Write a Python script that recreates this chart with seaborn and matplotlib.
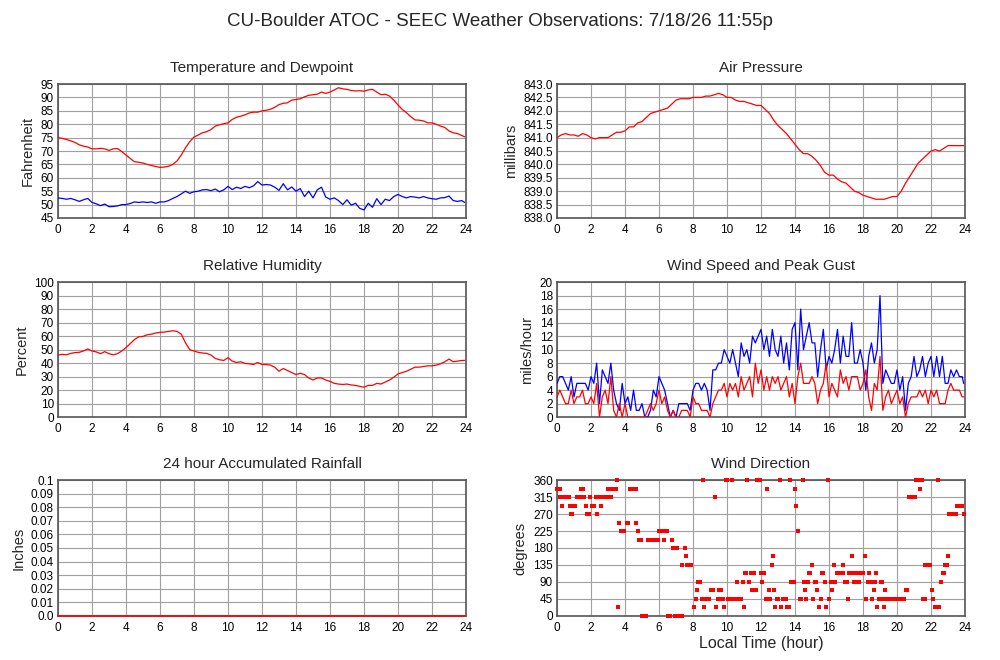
import numpy as np
import matplotlib
matplotlib.use("Agg")
import matplotlib.pyplot as plt
import seaborn as sns

# time axes (hours): 15-min series end at 11:55p, 10-min wind series likewise
t15 = np.append(np.arange(96) * 0.25, 23.92)
t10 = np.append(np.arange(144) / 6.0, 23.92)

temperature = [
    75.0, 74.7, 74.3, 73.8, 73.2, 72.3, 71.8, 71.5, 70.8, 70.8, 71.0, 70.8,
    70.2, 70.8, 70.9, 69.8, 68.5, 67.2, 66.0, 65.8, 65.5, 65.0, 64.6, 64.2,
    63.9, 64.0, 64.3, 65.0, 66.3, 68.5, 71.2, 73.5, 75.2, 76.0, 76.8, 77.2,
    78.0, 79.3, 79.8, 80.2, 80.5, 81.8, 82.6, 83.0, 83.5, 84.2, 84.5, 84.5,
    85.0, 85.2, 85.6, 86.3, 87.3, 87.8, 88.0, 89.0, 89.2, 89.5, 90.2, 90.8,
    91.0, 91.2, 92.0, 91.5, 92.0, 92.8, 93.6, 93.2, 93.0, 92.6, 92.4, 92.5,
    92.3, 92.8, 93.0, 92.0, 91.0, 91.2, 90.5, 89.0, 87.2, 85.5, 84.3, 82.8,
    81.6, 81.5, 81.2, 80.5, 80.5, 80.0, 79.3, 78.8, 77.5, 76.8, 76.5, 75.8,
    75.3]

dewpoint = [
    52.5, 52.3, 52.0, 52.3, 51.8, 51.2, 51.8, 52.3, 50.8, 50.3, 49.6, 50.2,
    49.2, 49.3, 49.5, 50.0, 50.0, 50.4, 51.0, 50.8, 51.0, 50.8, 51.0, 50.5,
    51.0, 51.0, 51.5, 52.3, 53.0, 54.0, 55.0, 54.2, 54.8, 55.0, 55.5, 55.6,
    55.2, 55.8, 54.8, 55.5, 56.8, 55.6, 56.5, 56.0, 56.8, 56.3, 57.0, 58.6,
    57.3, 57.5, 57.3, 56.5, 55.3, 57.8, 55.5, 56.6, 55.0, 56.0, 53.0, 55.0,
    52.5, 55.5, 56.5, 52.8, 52.0, 52.5, 51.5, 50.0, 51.8, 49.8, 50.5, 48.6,
    48.0, 50.5, 49.0, 52.2, 50.0, 52.0, 51.5, 53.0, 53.8, 53.0, 52.5, 53.0,
    52.8, 52.5, 53.0, 52.5, 52.2, 52.0, 52.5, 52.6, 53.2, 51.5, 51.2, 51.5,
    50.8]

pressure = [
    841.0, 841.1, 841.15, 841.1, 841.1, 841.05, 841.15, 841.1, 841.0, 840.95, 841.0, 841.0,
    841.0, 841.1, 841.2, 841.2, 841.25, 841.4, 841.4, 841.55, 841.6, 841.75, 841.9, 841.95,
    842.0, 842.05, 842.1, 842.25, 842.4, 842.45, 842.45, 842.45, 842.5, 842.5, 842.5, 842.55,
    842.55, 842.6, 842.65, 842.6, 842.5, 842.5, 842.4, 842.35, 842.35, 842.3, 842.25, 842.2,
    842.2, 842.05, 841.9, 841.65, 841.45, 841.3, 841.15, 840.95, 840.75, 840.55, 840.4, 840.4,
    840.3, 840.15, 839.95, 839.7, 839.6, 839.6, 839.45, 839.35, 839.3, 839.15, 839.0, 838.95,
    838.85, 838.8, 838.75, 838.7, 838.7, 838.7, 838.75, 838.8, 838.8, 839.0, 839.3, 839.55,
    839.8, 840.05, 840.2, 840.35, 840.5, 840.55, 840.5, 840.6, 840.7, 840.7, 840.7, 840.7,
    840.7]

humidity = [
    46.0, 46.5, 46.2, 47.2, 47.8, 48.0, 49.0, 50.5, 49.0, 48.3, 47.0, 48.5,
    47.0, 46.2, 47.0, 49.0, 51.5, 54.5, 57.5, 59.5, 59.8, 61.0, 61.5, 62.3,
    62.8, 63.0, 63.5, 64.0, 63.5, 61.5, 55.0, 50.0, 49.0, 48.0, 47.5, 47.2,
    46.0, 43.5, 42.5, 42.0, 44.0, 41.5, 40.5, 41.0, 39.8, 39.5, 39.0, 40.5,
    39.0, 39.0, 38.5, 37.0, 34.0, 36.0, 34.5, 33.0, 31.5, 32.5, 31.5, 29.0,
    27.5, 29.0, 29.0, 27.5, 26.5, 25.0, 24.5, 24.2, 24.5, 23.8, 23.5, 22.8,
    22.2, 23.5, 23.5, 25.0, 24.5, 26.0, 27.5, 29.5, 32.0, 33.0, 34.0, 35.5,
    37.0, 37.0, 37.5, 38.0, 38.0, 38.5, 39.5, 41.0, 43.0, 41.0, 41.5, 42.0,
    42.0]

gust = [
    5, 6, 6, 5, 4, 6,   3, 5, 5, 5, 5, 4,   6, 5, 8, 2, 7, 6,   5, 8, 4, 2, 1, 5,
    2, 3, 1, 4, 1, 1,   2, 0, 0, 1, 4, 3,   6, 5, 4, 2, 0, 1,   0, 2, 2, 2, 2, 1,
    4, 5, 5, 4, 5, 4,   1, 7, 7, 8, 8, 10,  9, 8, 10, 8, 6, 11, 9, 10, 8, 12, 11, 12,
    13, 10, 12, 9, 13, 10, 9, 12, 8, 11, 7, 13, 14, 7, 16, 10, 12, 14, 11, 11, 6, 10, 13, 7,
    9, 8, 10, 13, 8, 12, 9, 9, 14, 8, 8, 10, 8, 4, 9, 11, 8, 10, 18, 5, 7, 6, 5, 5,
    7, 4, 6, 1, 5, 6,   9, 6, 7, 9, 6, 8,   9, 6, 9, 6, 9, 5,   5, 7, 6, 7, 6, 6,
    5]

speed = [
    3, 4, 3, 2, 2, 4,   2, 3, 3, 4, 2, 2,   3, 2, 5, 0, 3, 4,   2, 6, 1, 0, 2, 0,
    2, 0, 0, 0, 0, 0,   0, 0, 1, 2, 1, 2,   4, 2, 3, 1, 0, 1,   0, 0, 1, 1, 1, 0,
    3, 2, 2, 1, 1, 1,   0, 2, 3, 4, 4, 5,   3, 5, 4, 5, 3, 6,   4, 5, 6, 3, 8, 5,
    7, 4, 6, 4, 6, 5,   6, 4, 5, 6, 3, 5,   2, 6, 8, 5, 5, 5,   6, 5, 2, 4, 5, 8,
    3, 5, 4, 3, 7, 5,   6, 4, 6, 6, 6, 4,   5, 7, 3, 1, 5, 4,   9, 1, 3, 4, 2, 3,
    4, 2, 3, 0, 2, 3,   3, 3, 4, 3, 4, 2,   4, 3, 4, 2, 2, 2,   4, 5, 4, 4, 4, 3,
    3]

rain_hour = [0.0, 23.92]
rain = [0.0, 0.0]

wd_hour = [
    0.0, 0.08, 0.15, 0.2, 0.3, 0.37, 0.45, 0.53, 0.6, 0.68,
    0.75, 0.8, 0.88, 1.0, 1.08, 1.2, 1.28, 1.37, 1.43, 1.5,
    1.57, 1.68, 1.75, 1.85, 1.9, 1.95, 2.05, 2.13, 2.2, 2.28,
    2.33, 2.42, 2.5, 2.58, 2.7, 2.78, 2.87, 2.95, 3.0, 3.08,
    3.2, 3.3, 3.38, 3.45, 3.5, 3.57, 3.65, 3.75, 3.83, 3.92,
    4.1, 4.18, 4.3, 4.38, 4.47, 4.55, 4.62, 4.67, 4.75, 4.85,
    4.93, 5.0, 5.08, 5.17, 5.25, 5.33, 5.42, 5.5, 5.58, 5.67,
    5.75, 5.83, 5.92, 6.0, 6.08, 6.17, 6.28, 6.37, 6.45, 6.55,
    6.63, 6.75, 6.85, 6.92, 6.97, 7.0, 7.05, 7.08, 7.17, 7.25,
    7.33, 7.38, 7.5, 7.57, 7.62, 7.7, 7.78, 7.87, 8.05, 8.15,
    8.25, 8.32, 8.4, 8.5, 8.58, 8.67, 8.72, 8.8, 8.88, 8.97,
    9.07, 9.17, 9.3, 9.38, 9.47, 9.55, 9.62, 9.7, 9.77, 9.85,
    9.92, 10.0, 10.05, 10.13, 10.2, 10.27, 10.33, 10.42, 10.5, 10.6,
    10.7, 10.78, 10.85, 10.92, 11.0, 11.07, 11.13, 11.2, 11.3, 11.42,
    11.47, 11.5, 11.58, 11.7, 11.78, 11.85, 11.92, 12.0, 12.08, 12.17,
    12.28, 12.35, 12.45, 12.55, 12.62, 12.7, 12.77, 12.85, 12.92, 13.0,
    13.1, 13.2, 13.3, 13.38, 13.47, 13.55, 13.62, 13.7, 13.77, 13.85,
    13.93, 14.0, 14.07, 14.18, 14.27, 14.35, 14.45, 14.5, 14.6, 14.67,
    14.75, 14.83, 14.9, 15.0, 15.07, 15.17, 15.25, 15.32, 15.4, 15.5,
    15.57, 15.65, 15.75, 15.85, 15.95, 16.02, 16.1, 16.2, 16.3, 16.37,
    16.47, 16.55, 16.63, 16.72, 16.8, 16.85, 16.97, 17.05, 17.12, 17.2,
    17.28, 17.35, 17.45, 17.52, 17.62, 17.7, 17.78, 17.87, 17.95, 18.02,
    18.1, 18.17, 18.3, 18.37, 18.47, 18.55, 18.62, 18.7, 18.78, 18.85,
    18.97, 19.03, 19.1, 19.18, 19.25, 19.32, 19.42, 19.5, 19.58, 19.67,
    19.75, 19.83, 19.92, 20.0, 20.08, 20.17, 20.25, 20.33, 20.42, 20.52,
    20.6, 20.72, 20.8, 20.88, 20.97, 21.05, 21.13, 21.2, 21.28, 21.35,
    21.45, 21.55, 21.62, 21.67, 21.75, 21.83, 21.92, 22.05, 22.13, 22.22,
    22.3, 22.4, 22.47, 22.57, 22.68, 22.75, 22.83, 22.92, 23.0, 23.05,
    23.13, 23.2, 23.28, 23.37, 23.45, 23.5, 23.58, 23.67, 23.75, 23.83,
    23.92]

wd_deg = [
    337.5, 337.5, 337.5, 315, 292.5, 315, 315, 315, 315, 315,
    292.5, 270, 270, 292.5, 292.5, 315, 315, 315, 337.5, 337.5,
    315, 292.5, 270, 270, 270, 315, 292.5, 292.5, 292.5, 315,
    270, 315, 315, 292.5, 315, 315, 315, 315, 337.5, 337.5,
    315, 337.5, 337.5, 337.5, 360, 22.5, 247.5, 225, 225, 225,
    247.5, 247.5, 337.5, 337.5, 337.5, 337.5, 337.5, 247.5, 225, 202.5,
    202.5, 0, 0, 0, 0, 202.5, 202.5, 202.5, 202.5, 202.5,
    202.5, 202.5, 202.5, 225, 225, 225, 202.5, 225, 225, 0,
    0, 202.5, 180, 0, 180, 0, 180, 0, 0, 0,
    0, 135, 180, 157.5, 135, 135, 135, 135, 22.5, 45,
    67.5, 90, 90, 45, 360, 22.5, 45, 45, 45, 45,
    67.5, 67.5, 315, 22.5, 45, 67.5, 67.5, 45, 45, 22.5,
    360, 360, 45, 45, 45, 360, 45, 45, 45, 90,
    45, 45, 45, 90, 22.5, 112.5, 112.5, 360, 90, 112.5,
    67.5, 112.5, 112.5, 67.5, 360, 360, 360, 112.5, 90, 112.5,
    45, 337.5, 67.5, 45, 135, 157.5, 67.5, 22.5, 45, 45,
    360, 22.5, 45, 45, 45, 22.5, 22.5, 360, 90, 90,
    90, 337.5, 292.5, 225, 45, 45, 360, 90, 67.5, 45,
    90, 112.5, 112.5, 135, 45, 90, 90, 67.5, 22.5, 45,
    112.5, 112.5, 90, 22.5, 360, 45, 90, 67.5, 135, 90,
    112.5, 112.5, 112.5, 112.5, 112.5, 135, 90, 90, 45, 112.5,
    112.5, 157.5, 90, 112.5, 90, 112.5, 90, 112.5, 112.5, 112.5,
    157.5, 45, 90, 112.5, 90, 45, 67.5, 90, 112.5, 22.5,
    45, 90, 90, 45, 22.5, 67.5, 45, 45, 45, 45,
    45, 45, 45, 45, 45, 45, 45, 45, 45, 67.5,
    67.5, 315, 315, 315, 315, 315, 360, 360, 360, 337.5,
    360, 45, 45, 135, 135, 135, 135, 67.5, 45, 22.5,
    22.5, 360, 22.5, 90, 112.5, 112.5, 135, 135, 157.5, 270,
    270, 270, 270, 270, 270, 292.5, 292.5, 292.5, 292.5, 292.5,
    270]

sns.set_style("whitegrid")
plt.rcParams['font.family'] = ['Liberation Sans', 'DejaVu Sans']

fig = plt.figure(figsize=(10, 6.6), dpi=100)
fig.text(0.5, 0.968, 'CU-Boulder ATOC - SEEC Weather Observations: 7/18/26 11:55p',
         ha='center', va='center', fontsize=13.5)

left_x, right_x, w = 0.058, 0.557, 0.408
rows = [(0.6697, 0.203), (0.368, 0.2045), (0.0667, 0.206)]


def style_axes(ax, title, ylabel, yticks, ylim):
    ax.set_facecolor('white')
    ax.set_xlim(0, 24)
    ax.set_ylim(*ylim)
    ax.set_xticks(range(0, 25, 2))
    ax.set_yticks(yticks)
    ax.grid(True, color='#a0a0a0', linewidth=0.8)
    ax.set_axisbelow(True)
    for sp in ax.spines.values():
        sp.set_color('#555555')
        sp.set_linewidth(1.2)
        sp.set_zorder(1.5)
    ax.tick_params(length=0, labelsize=8.5, colors='black')
    ax.tick_params(axis='x', pad=4)
    ax.tick_params(axis='y', pad=3)
    ax.set_title(title, fontsize=11, pad=9)
    ax.set_ylabel(ylabel, fontsize=10.5, labelpad=4)
    ax.set_xlabel('')


# Temperature and dewpoint
ax1 = fig.add_axes([left_x, rows[0][0], w, rows[0][1]])
sns.lineplot(x=t15, y=temperature, color='#ff0000', linewidth=0.9, ax=ax1)
sns.lineplot(x=t15, y=dewpoint, color='#0000ff', linewidth=0.9, ax=ax1)
style_axes(ax1, 'Temperature and Dewpoint', 'Fahrenheit', range(45, 96, 5), (45, 95))

# Air pressure
ax2 = fig.add_axes([right_x, rows[0][0], w, rows[0][1]])
sns.lineplot(x=t15, y=pressure, color='#ff0000', linewidth=0.9, ax=ax2)
style_axes(ax2, 'Air Pressure', 'millibars', np.arange(838.0, 843.01, 0.5), (838, 843))
ax2.set_yticklabels([f'{v:.1f}' for v in np.arange(838.0, 843.01, 0.5)])

# Relative humidity
ax3 = fig.add_axes([left_x, rows[1][0], w, rows[1][1]])
sns.lineplot(x=t15, y=humidity, color='#ff0000', linewidth=0.9, ax=ax3)
style_axes(ax3, 'Relative Humidity', 'Percent', range(0, 101, 10), (0, 100))

# Wind speed and gust
ax4 = fig.add_axes([right_x, rows[1][0], w, rows[1][1]])
sns.lineplot(x=t10, y=gust, color='#0000ff', linewidth=0.9, ax=ax4)
sns.lineplot(x=t10, y=speed, color='#ff0000', linewidth=0.9, ax=ax4)
style_axes(ax4, 'Wind Speed and Peak Gust', 'miles/hour', range(0, 21, 2), (0, 20))

# Rainfall
ax5 = fig.add_axes([left_x, rows[2][0], w, rows[2][1]])
rain_ticks = np.arange(0, 0.1001, 0.01)
style_axes(ax5, '24 hour Accumulated Rainfall', 'Inches', rain_ticks, (0, 0.1))
ax5.set_yticklabels(['0.0'] + [f'{v:.2f}' for v in rain_ticks[1:-1]] + ['0.1'])
sns.lineplot(x=rain_hour, y=rain, color='#ff0000', linewidth=1.2, ax=ax5,
             clip_on=False, zorder=5)

# Wind direction
ax6 = fig.add_axes([right_x, rows[2][0], w, rows[2][1]])
sns.scatterplot(x=wd_hour, y=wd_deg, marker='s', s=5, color='#ff0000',
                linewidth=0, ax=ax6, clip_on=False, zorder=5)
style_axes(ax6, 'Wind Direction', 'degrees', range(0, 361, 45), (0, 360))
ax6.set_xlabel('Local Time (hour)', fontsize=11.5, labelpad=2)

fig.savefig('out.png', dpi=100)
